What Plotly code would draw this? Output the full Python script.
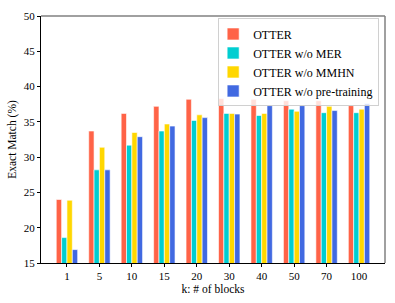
import plotly.graph_objects as go

categories = ["1", "5", "10", "15", "20", "30", "40", "50", "70", "100"]
otter = [24.0, 33.7, 36.2, 37.2, 38.2, 38.3, 38.2, 38.0, 38.0, 37.3]
otter_wo_mer = [18.6, 28.2, 31.7, 33.7, 35.2, 36.2, 35.9, 36.8, 36.3, 36.3]
otter_wo_mmhn = [23.9, 31.4, 33.5, 34.7, 36.0, 36.2, 36.2, 36.5, 37.2, 36.8]
otter_wo_pre = [16.9, 28.2, 32.9, 34.4, 35.6, 36.1, 37.3, 37.3, 36.6, 37.6]

series = [
    ("OTTER", otter, "#FF6347"),
    ("OTTER w/o MER", otter_wo_mer, "#00CED1"),
    ("OTTER w/o MMHN", otter_wo_mmhn, "#FFD700"),
    ("OTTER w/o pre-training", otter_wo_pre, "#4169E1"),
]

fig = go.Figure()
for name, vals, col in series:
    fig.add_trace(go.Bar(
        x=categories, y=vals, name=name,
        marker=dict(color=col, line=dict(color="white", width=0.6)),
        base=0,
    ))

SERIF = "'Liberation Serif', 'Times New Roman', Times, serif"
font = dict(family=SERIF, size=11, color="black")

fig.update_layout(
    width=395, height=303,
    margin=dict(l=41, r=10, t=14, b=38),
    plot_bgcolor="white", paper_bgcolor="white",
    barmode="group", bargap=0.34, bargroupgap=0,
    font=font,
    showlegend=True,
    legend=dict(
        x=0.983, y=0.99, xanchor="right", yanchor="top",
        bordercolor="#d0d0d0", borderwidth=1, bgcolor="rgba(255,255,255,0.8)",
        font=dict(family=SERIF, size=12, color="black"),
        itemwidth=30, tracegroupgap=0, indentation=-6,
    ),
    xaxis=dict(
        type="category",
        range=[-0.8, 9.8],
        title=dict(text="k: # of blocks", font=dict(family=SERIF, size=11.5, color="black"), standoff=3),
        tickfont=font,
        showline=True, linecolor="black", linewidth=1,
        ticks="outside", ticklen=3, tickcolor="black",
        showgrid=False, mirror=False,
    ),
    yaxis=dict(
        range=[15, 50],
        tickvals=[15, 20, 25, 30, 35, 40, 45, 50],
        tickfont=font,
        title=dict(text="Exact Match (%)", font=dict(family=SERIF, size=11.5, color="black"), standoff=4),
        showline=True, linecolor="black", linewidth=1,
        ticks="outside", ticklen=3, tickcolor="black",
        showgrid=False, zeroline=False,
    ),
    shapes=[
        dict(type="line", xref="paper", yref="paper", x0=0, x1=1, y0=1, y1=1,
             line=dict(color="#808080", width=1.5)),
        dict(type="line", xref="paper", yref="paper", x0=1, x1=1, y0=0, y1=1,
             line=dict(color="#808080", width=1.5)),
    ],
)

fig.write_html("out.html", config={"displayModeBar": False},
               post_script="document.body.style.margin='0';")
